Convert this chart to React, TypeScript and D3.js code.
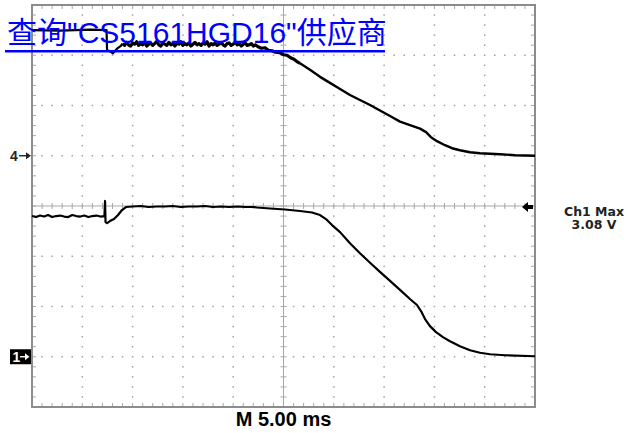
import React from "react";
import * as d3 from "d3";

// Time axis in ms (10 divisions of 5 ms), vertical in divisions
const timeDomain: [number, number] = [0, 50];
const divDomain: [number, number] = [-4, 4];
const xDivisions = 10;
const yDivisions = 8;

const linkText = "查询\"CS5161HGD16\"供应商";
const timebaseLabel = "M 5.00 ms";
const measureLabel = "Ch1 Max";
const measureValue = "3.08 V";
const ch4Marker = "4";
const ch1Marker = "1";
const ch4Ground = 1; // div
const ch1Ground = -3; // div
const triggerLevel = 0; // div

// Channel 4 trace [ms, div]
const ch4Start: [number, number][] = [
  [0, 3.5], [2.8, 3.49], [5.8, 3.51], [7.41, 3.5], [7.46, 3.1], [7.75, 3.08],
  [8.05, 3.04], [8.45, 3.13], [8.8, 3.18],
];
const ch4Noise: [number, number][] = [
  [9.0, 3.232], [9.2, 3.196], [9.4, 3.256], [9.6, 3.208], [9.8, 3.184], [10.0, 3.244],
  [10.2, 3.22], [10.4, 3.268], [10.6, 3.196], [10.8, 3.232], [11.0, 3.208], [11.2, 3.256],
  [11.4, 3.184], [11.6, 3.22], [11.8, 3.244], [12.0, 3.196], [12.2, 3.232], [12.4, 3.28],
  [12.6, 3.208], [12.8, 3.184], [13.0, 3.244], [13.2, 3.22], [13.4, 3.196], [13.6, 3.256],
  [13.8, 3.208], [14.0, 3.232], [14.2, 3.184], [14.4, 3.244], [14.6, 3.22], [14.8, 3.268],
  [15.0, 3.196], [15.2, 3.232], [15.4, 3.208], [15.6, 3.244], [15.8, 3.184], [16.0, 3.22],
  [16.2, 3.256], [16.4, 3.208], [16.6, 3.232], [16.8, 3.196], [17.0, 3.244], [17.2, 3.22],
  [17.4, 3.268], [17.6, 3.184], [17.8, 3.232], [18.0, 3.208], [18.2, 3.244], [18.4, 3.196],
  [18.6, 3.22], [18.8, 3.256], [19.0, 3.208], [19.2, 3.184], [19.4, 3.232], [19.6, 3.244],
  [19.8, 3.196], [20.0, 3.22], [20.2, 3.268], [20.4, 3.208], [20.6, 3.232], [20.8, 3.184],
  [21.0, 3.22], [21.2, 3.244], [21.4, 3.196], [21.6, 3.208], [21.8, 3.232], [22.0, 3.184],
  [22.2, 3.208],
];
const ch4Fall: [number, number][] = [
  [22.47, 3.17], [22.8, 3.14], [23.16, 3.15], [23.5, 3.1], [23.86, 3.09], [24.2, 3.06],
  [24.65, 3.05], [25.0, 3.01], [25.35, 3.0], [25.7, 2.95], [26.04, 2.92], [26.3, 2.88],
  [26.64, 2.84], [27.63, 2.71], [28.63, 2.57], [29.62, 2.45],
  [30.62, 2.33], [31.61, 2.21], [32.6, 2.11], [33.6, 2.01], [34.59, 1.9],
  [35.59, 1.79], [36.58, 1.68], [37.57, 1.61], [38.57, 1.54], [39.17, 1.47],
  [39.66, 1.37], [40.26, 1.29], [41.05, 1.21], [41.75, 1.15], [42.54, 1.11],
  [43.54, 1.07], [44.53, 1.05], [45.53, 1.04], [46.52, 1.03], [48.01, 1.01],
  [50, 1.0],
];

// Channel 1 trace [ms, div]
const ch1Start: [number, number][] = [
  [0.0, -0.2], [0.4, -0.22], [0.8, -0.19], [1.2, -0.21], [1.6, -0.18], [2.0, -0.22],
  [2.4, -0.2], [2.8, -0.19], [3.2, -0.21], [3.6, -0.22], [4.0, -0.18], [4.4, -0.2],
  [4.8, -0.21], [5.2, -0.19], [5.6, -0.22], [6.0, -0.2], [6.4, -0.19], [6.8, -0.21],
  [7.2, -0.2],
];
const ch1Step: [number, number][] = [
  [7.26, 0.1], [7.31, -0.32], [7.46, -0.34], [7.75, -0.3], [8.15, -0.26],
  [8.55, -0.18], [8.95, -0.08], [9.34, -0.02],
];
const ch1Flat: [number, number][] = [
  [10.0, -0.01], [10.8, 0.0], [11.6, -0.02], [12.4, -0.01], [13.2, -0.01],
  [14.0, 0.0], [14.8, -0.02], [15.6, -0.01], [16.4, -0.01], [17.2, 0.0],
  [18.0, -0.02], [18.8, -0.01], [19.6, -0.02], [20.4, -0.01], [21.2, -0.02],
  [22.0, -0.02],
];
const ch1Fall: [number, number][] = [
  [22.37, -0.03], [23.66, -0.05], [25.15, -0.07], [26.64, -0.1], [27.83, -0.13],
  [28.63, -0.18], [29.22, -0.26], [29.82, -0.38], [30.62, -0.52], [31.61, -0.74],
  [32.6, -0.94], [33.6, -1.13], [34.59, -1.31], [35.59, -1.49], [36.58, -1.67],
  [37.57, -1.85], [38.27, -1.97], [38.67, -2.09], [39.07, -2.25], [39.56, -2.39],
  [40.16, -2.51], [40.85, -2.61], [41.55, -2.69], [42.54, -2.79], [43.54, -2.87],
  [44.53, -2.92], [45.53, -2.95], [47.02, -2.97], [50, -2.99],
];

const W = 628;
const H = 433;
const plot = { left: 32, right: 535, top: 5, bottom: 407 };

export default function App() {
  const x = d3.scaleLinear().domain(timeDomain).range([plot.left, plot.right]);
  const y = d3.scaleLinear().domain(divDomain).range([plot.bottom, plot.top]);
  const xStep = (timeDomain[1] - timeDomain[0]) / xDivisions;
  const yStep = (divDomain[1] - divDomain[0]) / yDivisions;

  const line = d3
    .line<[number, number]>()
    .x((d) => x(d[0]))
    .y((d) => y(d[1]));

  const ch4Head = [...ch4Start, ...ch4Noise.slice(0, 1)];
  const ch4Band = [...ch4Noise, ...ch4Fall.slice(0, 13)];
  const ch4Tail = ch4Fall.slice(12);
  const ch1 = [...ch1Start, ...ch1Step, ...ch1Flat, ...ch1Fall];

  const gridColor = "#a0a0a0";
  const dots: JSX.Element[] = [];
  for (let i = 1; i < xDivisions; i++) {
    if (i === xDivisions / 2) continue;
    const t = timeDomain[0] + i * xStep;
    for (let k = 1; k < yDivisions * 5; k++) {
      const v = divDomain[0] + (k * yStep) / 5;
      dots.push(
        <rect key={`v${i}-${k}`} x={x(t) - 0.75} y={y(v) - 0.75} width={1.5} height={1.5} fill={gridColor} />
      );
    }
  }
  for (let j = 1; j < yDivisions; j++) {
    if (j === yDivisions / 2) continue;
    const v = divDomain[0] + j * yStep;
    for (let k = 1; k < xDivisions * 5; k++) {
      if (k % 5 === 0) continue;
      const t = timeDomain[0] + (k * xStep) / 5;
      dots.push(
        <rect key={`h${j}-${k}`} x={x(t) - 0.75} y={y(v) - 0.75} width={1.5} height={1.5} fill={gridColor} />
      );
    }
  }

  const ticks: JSX.Element[] = [];
  const xc = x((timeDomain[0] + timeDomain[1]) / 2);
  const yc = y((divDomain[0] + divDomain[1]) / 2);
  for (let k = 1; k < xDivisions * 5; k++) {
    const t = timeDomain[0] + (k * xStep) / 5;
    const px = x(t);
    ticks.push(<line key={`tt${k}`} x1={px} x2={px} y1={plot.top} y2={plot.top + 4} />);
    ticks.push(<line key={`tb${k}`} x1={px} x2={px} y1={plot.bottom} y2={plot.bottom - 4} />);
    ticks.push(<line key={`tc${k}`} x1={px} x2={px} y1={yc - 3} y2={yc + 3} />);
  }
  for (let k = 1; k < yDivisions * 5; k++) {
    const v = divDomain[0] + (k * yStep) / 5;
    const py = y(v);
    ticks.push(<line key={`tl${k}`} x1={plot.left} x2={plot.left + 4} y1={py} y2={py} />);
    ticks.push(<line key={`tr${k}`} x1={plot.right} x2={plot.right - 4} y1={py} y2={py} />);
    ticks.push(<line key={`tcv${k}`} x1={xc - 3} x2={xc + 3} y1={py} y2={py} />);
  }

  const g4 = y(ch4Ground);
  const g1 = y(ch1Ground);
  const trig = y(triggerLevel);

  return (
    <svg
      width={W}
      height={H}
      style={{ position: "absolute", left: 0, top: 0, background: "#fff" }}
    >
      <rect x={0} y={0} width={W} height={H} fill="#fff" />
      {dots}
      <g stroke="#a8a8a8" strokeWidth={1}>
        <line x1={plot.left} x2={plot.right} y1={yc} y2={yc} />
        <line x1={xc} x2={xc} y1={plot.top} y2={plot.bottom} />
        {ticks}
      </g>
      <rect
        x={plot.left}
        y={plot.top}
        width={plot.right - plot.left}
        height={plot.bottom - plot.top}
        fill="none"
        stroke="#8c8c8c"
        strokeWidth={2}
      />
      <path d={line(ch1) || ""} fill="none" stroke="#000" strokeWidth={2.2} strokeLinejoin="round" />
      <path d={line(ch4Head) || ""} fill="none" stroke="#000" strokeWidth={2.2} strokeLinejoin="round" />
      <path d={line(ch4Band) || ""} fill="none" stroke="#000" strokeWidth={3.2} strokeLinejoin="round" />
      <path d={line(ch4Tail) || ""} fill="none" stroke="#000" strokeWidth={2.4} strokeLinejoin="round" />

      {/* channel 4 ground marker */}
      <text x={10} y={g4 + 5} fontFamily="Liberation Sans, Arial, sans-serif" fontWeight="bold" fontSize={14} fill="#222">
        {ch4Marker}
      </text>
      <line x1={19} x2={27} y1={g4} y2={g4} stroke="#222" strokeWidth={1.4} />
      <path d={`M${31},${g4} L${26},${g4 - 3.5} L${26},${g4 + 3.5} Z`} fill="#222" />

      {/* channel 1 ground marker */}
      <rect x={10} y={g1 - 7.5} width={21} height={15} fill="#000" />
      <text x={12.5} y={g1 + 5} fontFamily="Liberation Sans, Arial, sans-serif" fontWeight="bold" fontSize={14} fill="#fff">
        {ch1Marker}
      </text>
      <line x1={20} x2={26} y1={g1} y2={g1} stroke="#fff" strokeWidth={1.4} />
      <path d={`M${29.5},${g1} L${25},${g1 - 3.5} L${25},${g1 + 3.5} Z`} fill="#fff" />

      {/* trigger level marker */}
      <path
        d={`M${522},${trig + 1} L${528},${trig - 4} L${528},${trig - 1} L${533},${trig - 1} L${533},${trig + 3} L${528},${trig + 3} L${528},${trig + 6} Z`}
        fill="#000"
      />

      <text x={594} y={215.5} textAnchor="middle" fontFamily="DejaVu Sans, sans-serif" fontWeight="bold" fontSize={12.5} fill="#222">
        {measureLabel}
      </text>
      <text x={594} y={229} textAnchor="middle" fontFamily="DejaVu Sans, sans-serif" fontWeight="bold" fontSize={12.5} fill="#222">
        {measureValue}
      </text>

      <text x={x(25)} y={426} textAnchor="middle" fontFamily="Liberation Sans, Arial, sans-serif" fontWeight="bold" fontSize={20} fill="#000">
        {timebaseLabel}
      </text>

      <text x={7} y={43} fontFamily="Liberation Sans, 'Noto Sans CJK SC', sans-serif" fontSize={30} fill="#0000ff">
        {linkText}
      </text>
      <rect x={5} y={50} width={380} height={2.5} fill="#0000ff" />
    </svg>
  );
}
